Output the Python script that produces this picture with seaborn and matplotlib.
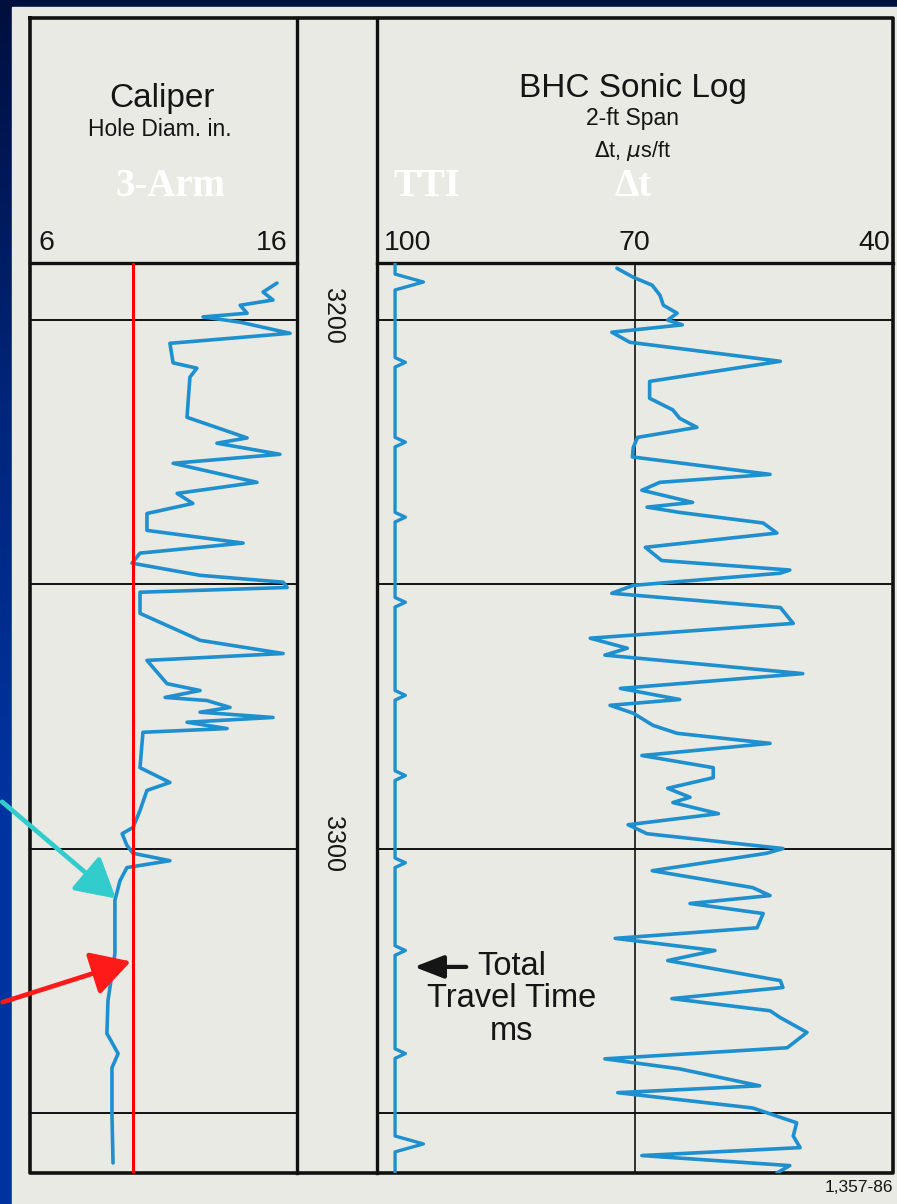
#!/usr/bin/python

import numpy as np
import pandas as pd
import matplotlib
matplotlib.use('Agg')
import matplotlib.pyplot as plt
import seaborn as sns
from matplotlib.colors import LinearSegmentedColormap

################################################################################
# data (depth in ft)
cal_depth = [3193.0, 3194.7, 3196.2, 3197.2, 3198.7, 3199.4, 3200.4, 3202.5, 3204.4, 3208.1,
             3209.1, 3210.8, 3218.4, 3222.3, 3223.3, 3225.4, 3227.1, 3230.7, 3232.8, 3234.7,
             3236.6, 3239.8, 3242.2, 3244.1, 3246.0, 3248.3, 3249.6, 3250.6, 3251.5, 3255.5,
             3260.6, 3263.1, 3264.4, 3268.8, 3270.1, 3271.4, 3272.0, 3273.3, 3274.2, 3275.2,
             3276.1, 3277.3, 3278.0, 3284.7, 3287.5, 3289.0, 3292.8, 3296.0, 3297.2, 3299.4,
             3300.9, 3302.3, 3303.6, 3306.1, 3309.8, 3319.9, 3328.8, 3335.0, 3338.8, 3341.5,
             3350.2, 3359.5]
cal_in = [15.25, 14.73, 15.10, 13.87, 14.13, 12.48, 13.87, 15.74, 11.24, 11.36,
          12.25, 11.99, 11.88, 14.13, 13.00, 15.36, 11.36, 14.50, 11.51, 12.10,
          10.38, 10.38, 13.98, 10.12, 9.82, 12.37, 15.48, 15.63, 10.12, 10.12,
          12.37, 15.48, 10.38, 11.13, 12.37, 11.06, 12.63, 13.49, 12.37, 15.10,
          11.88, 13.38, 10.23, 10.12, 11.24, 10.38, 10.12, 9.86, 9.45, 9.63,
          9.86, 11.24, 9.63, 9.37, 9.18, 9.18, 8.92, 8.88, 9.30, 9.07,
          9.07, 9.11]

dt_depth = [3190.2, 3191.9, 3193.4, 3195.3, 3197.2, 3198.7, 3200.0, 3200.9, 3202.3, 3204.2,
            3207.8, 3211.6, 3214.8, 3217.0, 3218.6, 3220.3, 3222.2, 3224.1, 3225.9, 3229.2,
            3230.7, 3232.2, 3234.5, 3235.4, 3236.4, 3238.4, 3240.3, 3243.0, 3245.5, 3247.3,
            3247.9, 3250.2, 3251.7, 3254.4, 3257.4, 3260.2, 3262.1, 3263.4, 3266.9, 3269.7,
            3271.8, 3272.9, 3274.4, 3276.7, 3278.2, 3280.1, 3282.4, 3284.7, 3286.6, 3288.6,
            3290.3, 3291.3, 3293.4, 3295.5, 3297.2, 3300.0, 3300.9, 3304.2, 3307.4, 3308.9,
            3310.4, 3312.3, 3315.0, 3317.0, 3319.3, 3321.2, 3325.0, 3326.3, 3328.4, 3330.7,
            3332.0, 3334.8, 3337.7, 3339.8, 3341.7, 3344.9, 3346.2, 3349.1, 3351.9, 3354.4,
            3356.6, 3358.1, 3360.0, 3361.4]
dt_us = [72.1, 70.2, 68.0, 67.1, 66.7, 65.1, 66.2, 64.5, 72.7, 70.6,
         53.1, 68.3, 68.3, 65.6, 64.8, 62.8, 69.7, 70.2, 70.3, 54.3,
         67.1, 69.2, 63.3, 68.6, 64.8, 55.1, 53.5, 68.8, 66.9, 52.0,
         53.1, 70.2, 72.7, 53.1, 51.6, 75.2, 70.9, 73.5, 50.5, 71.7,
         64.8, 72.9, 70.2, 67.9, 65.1, 54.3, 69.2, 60.9, 60.9, 66.2,
         63.6, 65.6, 60.3, 70.8, 68.6, 52.8, 54.7, 68.0, 56.3, 54.3,
         63.6, 55.1, 55.8, 72.3, 60.7, 66.2, 53.1, 52.8, 65.7, 54.3,
         53.1, 50.0, 52.3, 73.5, 64.8, 55.5, 72.0, 56.3, 51.2, 51.6,
         50.8, 69.2, 52.0, 53.5]

tti_pip_depth = [3192.8, 3208.0, 3223.1, 3237.3, 3253.4, 3271.0, 3286.2, 3302.7, 3319.3, 3338.8, 3355.9]
tti_pip_big = [True, False, False, False, False, False, False, False, False, False, True]
tti_base, tti_small, tti_big = 97.9, 96.7, 94.6

bit_size = 9.875
depth_grid = [3200, 3250, 3300, 3350]
depth_labels = [3200, 3300]
cal_scale = [6, 16]
son_scale = [100, 70, 40]
top_d, bot_d = 3189.2, 3361.4

################################################################################
W, H = 897, 1204
def fx(px): return px / W
def fy(py): return 1 - py / H

sns.set_theme(style='white')
plt.rcParams['font.family'] = ['Liberation Sans', 'DejaVu Sans']

fig = plt.figure(figsize=(W / 100, H / 100), dpi=100)

# background: navy gradient + paper
ax_bg = fig.add_axes([0, 0, 1, 1], zorder=0)
ax_bg.set_xlim(0, W); ax_bg.set_ylim(H, 0); ax_bg.axis('off')
cmap_bg = LinearSegmentedColormap.from_list('bg', ['#000f3e', '#00257a', '#0033a0', '#0033a0'])
ax_bg.imshow(np.linspace(0, 1, 200).reshape(-1, 1), cmap=cmap_bg, aspect='auto',
             extent=[0, W, H, 0])
ax_bg.add_patch(plt.Rectangle((12, 7), W - 12, H - 7, color='#eaeae5', zorder=1))

# frame
lk = dict(color='#111111', zorder=3, solid_capstyle='projecting')
ax_bg.plot([30, 893, 893, 30, 30], [18, 18, 1173, 1173, 18], lw=2.6, **lk)
ax_bg.plot([297, 297], [18, 1173], lw=2.4, **lk)
ax_bg.plot([377, 377], [18, 1173], lw=2.4, **lk)
ax_bg.plot([30, 297], [263, 263], lw=2.4, **lk)
ax_bg.plot([377, 893], [263, 263], lw=2.4, **lk)

# data tracks
y0, hh = fy(1173), (1173 - 263) / H
ax_cal = fig.add_axes([fx(30), y0, fx(267), hh], zorder=2)
ax_dep = fig.add_axes([fx(297), y0, fx(80), hh], zorder=2)
ax_son = fig.add_axes([fx(377), y0, fx(516), hh], zorder=2)
for ax in (ax_cal, ax_dep, ax_son):
    ax.set_facecolor('none')
    ax.set_ylim(bot_d, top_d)
    for s in ax.spines.values():
        s.set_visible(False)
    ax.set_xticks([]); ax.set_yticks([])
    ax.set_xlabel(''); ax.set_ylabel('')
ax_cal.set_xlim(cal_scale[0], cal_scale[1])
ax_son.set_xlim(son_scale[0], son_scale[-1])
ax_dep.set_xlim(0, 1)

curve = '#1e8fcf'
for d in depth_grid:
    ax_cal.axhline(d, color='#111111', lw=1.4, zorder=1)
    ax_son.axhline(d, color='#111111', lw=1.4, zorder=1)
ax_son.axvline(son_scale[1], color='#111111', lw=1.2, zorder=1)

cal_df = pd.DataFrame({'depth': cal_depth, 'cal': cal_in})
sns.lineplot(data=cal_df, x='cal', y='depth', orient='y', sort=False, estimator=None,
             color=curve, lw=2.6, ax=ax_cal, zorder=3)
ax_cal.plot([bit_size, bit_size], [top_d, bot_d], color='#ff0000', lw=2.2, zorder=4)

dt_df = pd.DataFrame({'depth': dt_depth, 'dt': dt_us})
sns.lineplot(data=dt_df, x='dt', y='depth', orient='y', sort=False, estimator=None,
             color=curve, lw=2.6, ax=ax_son, zorder=3)

# TTI pips line
td, tv = [top_d], [tti_base]
for d, big in zip(tti_pip_depth, tti_pip_big):
    h = 1.5 if big else 0.9
    td += [d - h, d, d + h]
    tv += [tti_base, tti_big if big else tti_small, tti_base]
td.append(bot_d); tv.append(tti_base)
tti_df = pd.DataFrame({'depth': td, 'tti': tv})
sns.lineplot(data=tti_df, x='tti', y='depth', orient='y', sort=False, estimator=None,
             color=curve, lw=2.4, ax=ax_son, zorder=3)

for d in depth_labels:
    ax_dep.text(0.45, d - 0.8, str(d), rotation=270, ha='center', va='center',
                fontsize=18, color='#151515')

# header texts
ht = dict(ha='center', va='center', color='#151515')
fig.text(fx(162), fy(98), 'Caliper', fontsize=24, **ht)
fig.text(fx(160), fy(129), 'Hole Diam. in.', fontsize=16.5, **ht)
fig.text(fx(633), fy(89), 'BHC Sonic Log', fontsize=24, **ht)
fig.text(fx(632), fy(119), '2-ft Span', fontsize=16.5, **ht)
fig.text(fx(632), fy(151), r'$\Delta$t, $\mu$s/ft', fontsize=15.5, **ht)
fig.text(fx(46), fy(243), str(cal_scale[0]), fontsize=20.5, **ht)
fig.text(fx(272), fy(243), str(cal_scale[1]), fontsize=20.5, **ht)
fig.text(fx(408), fy(243), str(son_scale[0]), fontsize=20.5, **ht)
fig.text(fx(634), fy(243), str(son_scale[1]), fontsize=20.5, **ht)
fig.text(fx(874), fy(243), str(son_scale[2]), fontsize=20.5, **ht)

wt = dict(ha='center', va='center', color='white', fontweight='bold',
          family=['Liberation Serif', 'DejaVu Serif'], fontsize=28)
fig.text(fx(170), fy(187), '3-Arm', **wt)
fig.text(fx(427), fy(187), 'TTI', **wt)
fig.text(fx(633), fy(187), '\u0394t', **wt)

# travel time note
ax_son.text(84.3, 3319.3, 'Total\nTravel Time\nms', ha='center', va='top', fontsize=23.5,
            linespacing=1.08, color='#151515')
ax_son.annotate('', xy=(96.0, 3322.4), xytext=(89.3, 3322.4),
                arrowprops=dict(arrowstyle='-|>,head_length=0.9,head_width=0.35',
                                color='#151515', lw=3.0, mutation_scale=20))

fig.text(fx(893), fy(1187), '1,357-86', ha='right', va='center', fontsize=12.5, color='#151515')

# pointer arrows
ax_cal.annotate('', xy=(9.30, 3309.8), xytext=(0.0, fy(800)), textcoords='figure fraction',
                arrowprops=dict(arrowstyle='-|>,head_length=0.8,head_width=0.45',
                                color='#33cccc', lw=3.4, mutation_scale=30), zorder=6)
ax_cal.annotate('', xy=(bit_size, 3321.2), xytext=(0.0, fy(1003)), textcoords='figure fraction',
                arrowprops=dict(arrowstyle='-|>,head_length=0.8,head_width=0.45',
                                color='#ff1a1a', lw=3.4, mutation_scale=30), zorder=6)

fig.savefig('out.png', dpi=100)
